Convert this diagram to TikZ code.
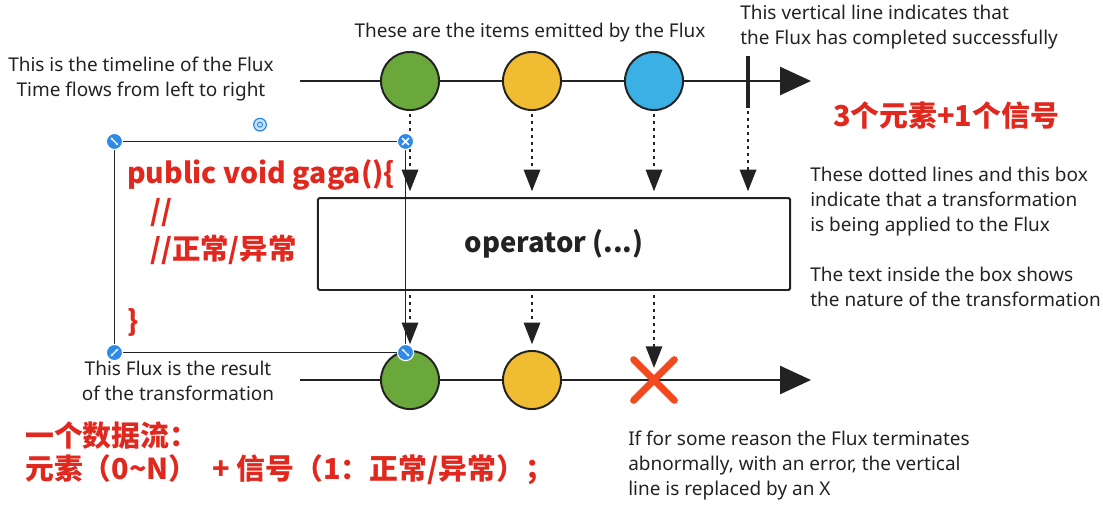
\documentclass[tikz,border=0pt]{standalone}
\usepackage{fontspec}
\setmainfont{Noto Sans}
\newfontfamily\cjk{Noto Sans CJK SC}
\usetikzlibrary{arrows.meta,positioning}

\definecolor{fluxgreen}{HTML}{6AA83C}
\definecolor{fluxyellow}{HTML}{F0BC32}
\definecolor{fluxblue}{HTML}{3AB0E4}
\definecolor{codered}{HTML}{E0281E}
\definecolor{xred}{HTML}{F24A1E}
\definecolor{handleblue}{HTML}{2E8AE6}
\definecolor{ink}{HTML}{222222}

\tikzset{
  item/.style={circle, draw=ink, line width=1.4pt, minimum size=41.3pt, inner sep=0pt},
  donebar/.style={rectangle, fill=ink, minimum width=2.8pt, minimum height=37pt, inner sep=0pt},
  timeline/.style={draw=ink, line width=1.4pt, -{Triangle[length=22pt,width=20pt]}},
  flow/.style={draw=ink, line width=2pt, dash pattern=on 2.2pt off 2.8pt,
    -{Triangle[length=15.5pt,width=11.5pt]}},
  opbox/.style={draw=ink, line width=1.4pt, rounded corners=1pt, minimum width=335.7pt,
    minimum height=65.4pt, font=\cjk\bfseries\fontsize{19.5}{22}\selectfont, text=ink},
  errx/.style={minimum size=28.5pt, inner sep=0pt},
  xmark/.style={draw=xred, line width=5pt, line cap=round},
  note/.style={inner sep=0pt, text=ink, font=\fontsize{13.5}{17.8}\selectfont},
  code/.style={inner sep=0pt, text=codered, font=\cjk\bfseries\fontsize{20.2}{24}\selectfont},
  hint/.style={inner sep=0pt, text=codered, font=\cjk\bfseries\fontsize{20.5}{24}\selectfont},
  selbox/.style={draw=ink, line width=0.7pt, minimum width=206.3pt, minimum height=149.4pt, inner sep=0pt},
  handle/.style={circle, fill=handleblue, draw=white, line width=0.8pt, minimum size=11.5pt, inner sep=0pt},
  handle nw/.style={handle, path picture={\draw[white, line width=0.8pt, {Stealth[length=2pt]}-{Stealth[length=2pt]}]
    ([shift={(-2.8pt,2.8pt)}]path picture bounding box.center) -- ([shift={(2.8pt,-2.8pt)}]path picture bounding box.center);}},
  handle ne/.style={handle, path picture={\draw[white, line width=0.8pt, {Stealth[length=2pt]}-{Stealth[length=2pt]}]
    ([shift={(-2.8pt,-2.8pt)}]path picture bounding box.center) -- ([shift={(2.8pt,2.8pt)}]path picture bounding box.center);}},
  handle x/.style={handle, path picture={\draw[white, line width=1.1pt]
    ([shift={(-2.4pt,2.4pt)}]path picture bounding box.center) -- ([shift={(2.4pt,-2.4pt)}]path picture bounding box.center)
    ([shift={(-2.4pt,-2.4pt)}]path picture bounding box.center) -- ([shift={(2.4pt,2.4pt)}]path picture bounding box.center);}},
  spin/.style={circle, fill=handleblue!25, draw=handleblue, line width=0.9pt, minimum size=9pt, inner sep=0pt,
    path picture={\draw[handleblue, line width=0.7pt] (path picture bounding box.center) circle (1.8pt);}},
}

\begin{document}
\begin{tikzpicture}[x=0.025cm, y=-0.025cm]
  \useasboundingbox (0,0) rectangle (1103,512);

  % source flux
  \coordinate (src-start) at (300,81);
  \coordinate (src-end) at (811,81);
  \draw[timeline] (src-start) -- (src-end);
  \node[item, fill=fluxgreen]  (src-a) at (410,81) {};
  \node[item, fill=fluxyellow] (src-b) at (532,81) {};
  \node[item, fill=fluxblue]   (src-c) at (654,81) {};
  \node[donebar] (done) at (748,82) {};

  % operator
  \node[opbox] (op) at (554,244) {operator (...)};
  \foreach \n in {src-a,src-b,src-c,done}
    \draw[flow, shorten <=2pt, shorten >=4pt] (\n.south) -- (\n.south |- op.north);

  % result flux
  \coordinate (res-start) at (300,380);
  \coordinate (res-end) at (811,380);
  \draw[timeline] (res-start) -- (res-end);
  \node[item, fill=fluxgreen]  (res-a) at (410,380) {};
  \node[item, fill=fluxyellow] (res-b) at (532,380) {};
  \node[errx] (err) at (654,380) {};
  \draw[xmark] (err.north west) -- (err.south east) (err.north east) -- (err.south west);
  \foreach \n in {res-a,res-b}
    \draw[flow, shorten <=3pt, shorten >=4pt] (op.south -| \n.north) -- (\n.north);
  \draw[flow, shorten <=3pt, shorten >=8.5pt] (op.south -| err.center) -- (err.center);

  % selected code box
  \node[selbox] (sel) at (260,247) {};
  \node[handle nw] (h-nw) at (sel.north west) {};
  \node[handle x]  (h-ne) at (sel.north east) {};
  \node[handle ne] (h-sw) at (sel.south west) {};
  \node[handle nw] (h-se) at (sel.south east) {};
  \node[spin, above=7pt of sel.north] (h-spin) {};
  \node[code, anchor=west] (code-1) at (127,175) {public void gaga()\{};
  \node[code, anchor=west] (code-2) at (150,213) {//};
  \node[code, anchor=west] (code-3) at (150,250) {//正常/异常};
  \node[code, anchor=west] (code-4) at (127,322) {\}};

  % notes
  \node[note, align=center] (n-time) at (141,79) {This is the timeline of the Flux\\Time flows from left to right};
  \node[note] (n-items) at (530,33) {These are the items emitted by the Flux};
  \node[note, align=left, anchor=north west] (n-done) at (740,5) {This vertical line indicates that\\the Flux has completed successfully};
  \node[hint] (n-count) at (946,116) {3个元素+1个信号};
  \node[note, align=left, anchor=north west] (n-op) at (810,167) {These dotted lines and this box\\indicate that a transformation\\is being applied to the Flux\\[17.8pt]The text inside the box shows\\the nature of the transformation};
  \node[note, align=center] (n-res) at (178,381) {This Flux is the result\\of the transformation};
  \node[note, align=left, anchor=north west] (n-err) at (628,431) {If for some reason the Flux terminates\\abnormally, with an error, the vertical\\line is replaced by an X};
  \node[hint, anchor=west] (cn-1) at (25,436) {一个数据流：};
  \node[hint, anchor=west] (cn-2) at (25,470) {元素（0\textasciitilde N）\hspace{6pt} + 信号（1：正常/异常）；};
\end{tikzpicture}
\end{document}
